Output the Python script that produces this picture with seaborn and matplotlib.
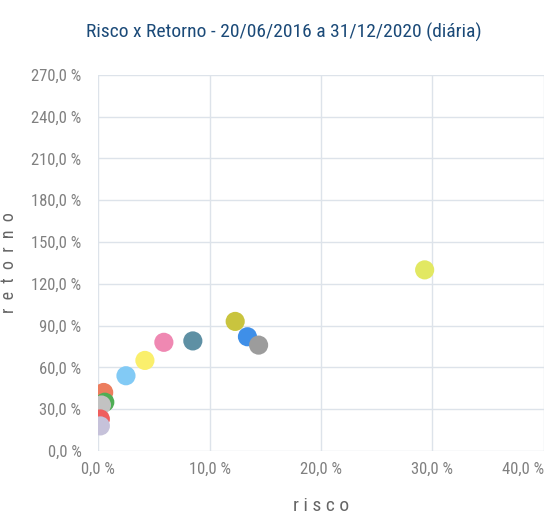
import matplotlib
matplotlib.use("Agg")
import matplotlib.pyplot as plt
import matplotlib.ticker as mticker
import pandas as pd
import seaborn as sns

# ativos (sem legenda no original)
ativos = ["A1", "A2", "A3", "A4", "A5", "A6", "A7", "A8", "A9", "A10", "A11", "A12", "A13"]
risco = [29.3, 12.3, 13.4, 14.4, 8.5, 5.9, 4.2, 2.5, 0.5, 0.6, 0.3, 0.2, 0.2]
retorno = [130.0, 93.0, 82.0, 76.0, 79.0, 78.0, 65.0, 54.0, 42.0, 35.0, 33.0, 23.0, 18.0]
cores = ["#e2e862", "#c9c43e", "#3f8fe8", "#9c9c9c", "#5e90a4", "#ef88b2", "#faef6c",
         "#82caf5", "#ec7d5e", "#4fae55", "#c2c2c2", "#ef5e5e", "#c6c2da"]

df = pd.DataFrame({"ativo": ativos, "risco": risco, "retorno": retorno})

sns.set_style("white")
plt.rcParams["font.family"] = ["Roboto Condensed", "Roboto", "DejaVu Sans"]

fig = plt.figure(figsize=(5.45, 5.16), dpi=100)
ax = fig.add_axes([0.18, 0.126, 0.818, 0.729])

sns.scatterplot(data=df, x="risco", y="retorno", hue="ativo", palette=cores,
                s=190, edgecolor="none", legend=False, ax=ax, zorder=3)

ax.set_xlim(0, 40)
ax.set_ylim(0, 270)
ax.set_xticks([0, 10, 20, 30, 40])
ax.set_yticks(range(0, 271, 30))
fmt = mticker.FuncFormatter(lambda v, p: f"{v:.1f} %".replace(".", ","))
ax.xaxis.set_major_formatter(fmt)
ax.yaxis.set_major_formatter(fmt)
ax.grid(True, color="#dde3ea", linewidth=1)
for s in ax.spines.values():
    s.set_visible(False)
ax.tick_params(length=0, labelsize=12, colors="#808080")
ax.tick_params(axis="y", pad=12)
ax.tick_params(axis="x", pad=8)
ax.get_xticklabels()[-1].set_horizontalalignment("right")
ax.set_xlabel("r i s c o", fontsize=14, color="#666666", labelpad=14)
ax.set_ylabel("r  e  t  o  r  n  o", fontsize=13, color="#666666")
ax.yaxis.set_label_coords(-0.18, 0.5)
fig.suptitle("Risco x Retorno - 20/06/2016 a 31/12/2020 (diária)", fontsize=14,
             color="#1b4a78", x=0.52, y=0.955)

fig.savefig("out.png", dpi=100)
